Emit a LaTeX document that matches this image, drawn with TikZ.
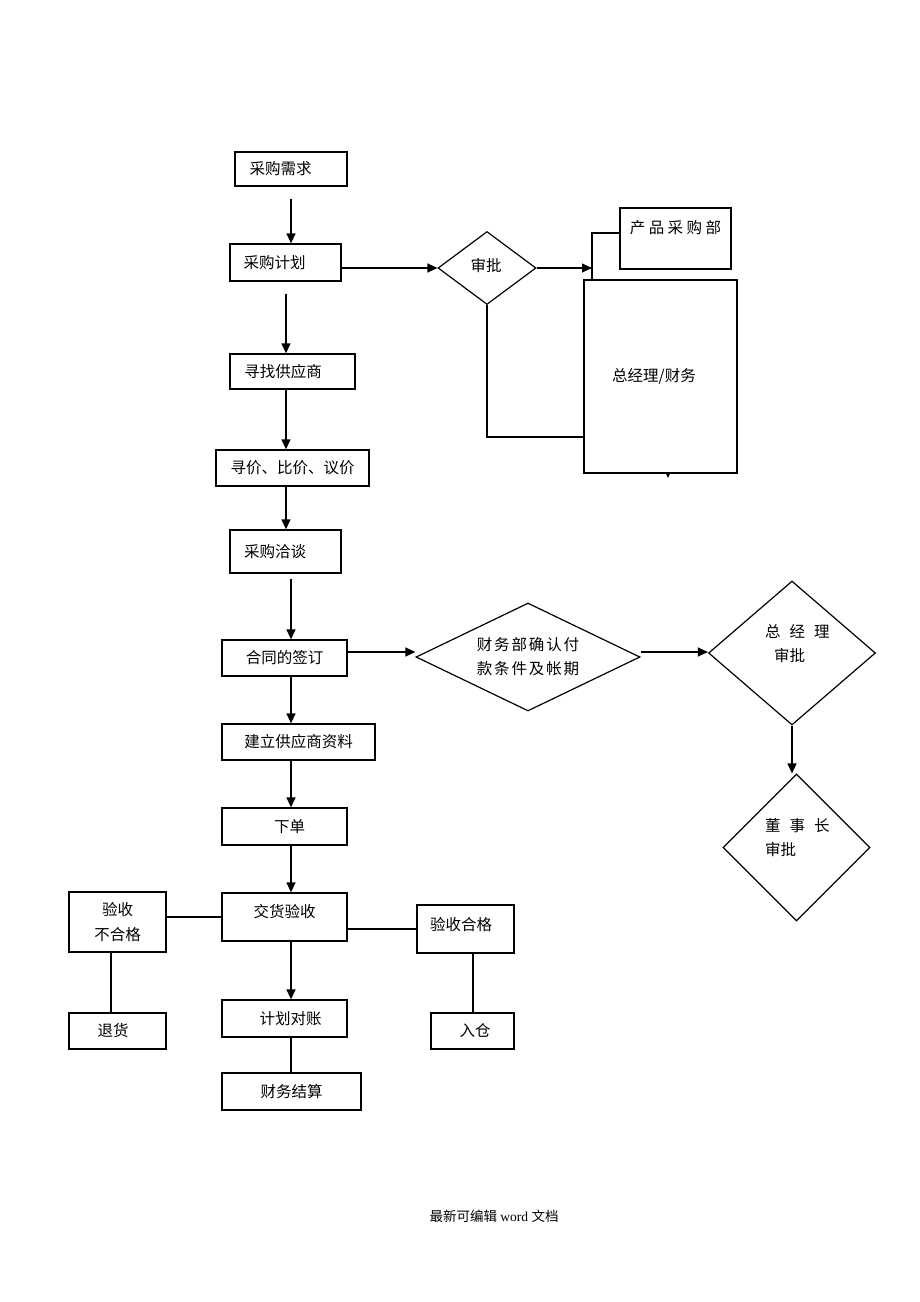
\documentclass[tikz,border=0pt]{standalone}
\usepackage{fontspec}
\setmainfont{Liberation Serif}
\newfontfamily\cjk{Noto Sans CJK SC}
\newfontfamily\cjkw[LetterSpace=12]{Noto Sans CJK SC}
\newfontfamily\cjkww[LetterSpace=22]{Noto Sans CJK SC}
\usetikzlibrary{shapes.geometric,arrows.meta}

\begin{document}
\begin{tikzpicture}[x=1pt,y=-1pt]

    % --- DEFINE STYLES ---
    % Style for process boxes
    \tikzstyle{box} = [rectangle, draw, fill=white, line width=1.3pt, inner sep=0pt, font=\cjk\fontsize{15.5}{25}\selectfont]
    % Style for decision diamonds
    \tikzstyle{dec} = [diamond, draw, line width=1.2pt, inner sep=0pt, font=\cjkw\fontsize{15.5}{24}\selectfont]
    % Style for free text
    \tikzstyle{txt} = [inner sep=0pt, font=\cjk\fontsize{15.5}{24}\selectfont]
    % Connectors
    \tikzstyle{arr} = [line width=1.3pt, -{Triangle[length=10pt,width=9pt]}]
    \tikzstyle{con} = [line width=1.3pt]

    \useasboundingbox (0,0) rectangle (920,1302);

    % --- MAIN COLUMN ---
    \node[box, minimum width=112, minimum height=34] (xq) at (291,169) {\hspace*{-21pt}采购需求};
    \node[box, minimum width=111, minimum height=37] (jh) at (285.5,262.5) {\hspace*{-22pt}采购计划};
    \node[box, minimum width=125, minimum height=35] (xz) at (292.5,371.5) {\hspace*{-19pt}寻找供应商};
    \node[box, minimum width=153, minimum height=36] (xj) at (292.5,468) {寻价、比价、议价};
    \node[box, minimum width=111, minimum height=43] (qt) at (285.5,551.5) {\hspace*{-21pt}采购洽谈};
    \node[box, minimum width=125, minimum height=36] (ht) at (284.5,658) {合同的签订};
    \node[box, minimum width=153, minimum height=36] (zl) at (298.5,742) {建立供应商资料};
    \node[box, minimum width=125, minimum height=37] (xd) at (284.5,826.5) {\hspace*{10pt}下单};
    \node[box, minimum width=125, minimum height=48] (jy) at (284.5,917) {\raisebox{12pt}{交货验收}};
    \node[box, minimum width=125, minimum height=37] (dz) at (284.5,1018.5) {\hspace*{12pt}计划对账};
    \node[box, minimum width=139, minimum height=37] (cs) at (291.5,1091.5) {财务结算};

    % --- SIDE BRANCHES ---
    \node[box, minimum width=97, minimum height=60, align=center] (bhg) at (117.5,922) {验收\\不合格};
    \node[box, minimum width=97, minimum height=36] (th) at (117.5,1031) {\hspace*{-9pt}退货};
    \node[box, minimum width=97, minimum height=48] (hg) at (465.5,929) {\hspace*{-9pt}\raisebox{10pt}{验收合格}};
    \node[box, minimum width=83, minimum height=36] (rc) at (472.5,1031) {\hspace*{5pt}入仓};

    % --- APPROVAL (TOP RIGHT) ---
    \node[dec, shape aspect=1.34, minimum width=98, minimum height=73] (sp) at (487,268) {};
    \node[txt] (spt) at (486,266) {审批};
    \node[box, minimum width=111, minimum height=61, font=\cjkww\fontsize{15.5}{25}\selectfont] (cg) at (675.5,238.5) {\raisebox{24pt}{产品采购部}};
    \coordinate (zjin) at (668,440);
    \coordinate (zjtip) at (668,478);
    \draw[arr] (zjin) -- (zjtip);
    \node[box, minimum width=153, minimum height=193] (zj) at (660.5,376.5) {\hspace*{-13pt}总经理/财务};
    \coordinate (kb) at (592,233);

    \draw[con] ([yshift=5.5]cg.west) -- (kb) -- (kb |- zj.north);
    \draw[arr] (sp.east) -- (sp.east -| kb);
    \draw[con] (sp.south) |- ([yshift=-60.5]zj.west);

    % --- PAYMENT APPROVAL (MIDDLE RIGHT) ---
    \node[dec, shape aspect=2.07, minimum width=224, minimum height=108, align=center] (cw) at (528,657) {财务部确认付\\款条件及帐期};
    \node[dec, shape aspect=1.16, minimum width=167, minimum height=144] (zjl) at (792,653) {};
    \node[txt, align=left, anchor=west] (zjlt) at (765,644) {总\hspace{9pt}经\hspace{9pt}理\\\hspace*{9pt}审批};
    \node[dec, shape aspect=1, minimum width=147, minimum height=147] (dsz) at (796.5,847.5) {};
    \node[txt, align=left, anchor=west] (dszt) at (765,838) {董\hspace{9pt}事\hspace{9pt}长\\审批};

    % --- CONNECTORS ---
    \draw[arr] ([yshift=-12]xq.south) -- (xq.south |- jh.north);
    \draw[arr] (jh.east |- sp.west) -- (sp.west);
    \draw[arr] ([xshift=0.5,yshift=-12]jh.south) -- ([xshift=0.5]jh.south |- xz.north);
    \draw[arr] ([xshift=-6.5]xz.south) -- ([xshift=-6.5]xz.south |- xj.north);
    \draw[arr] ([xshift=-6.5]xj.south) -- ([xshift=-6.5]xj.south |- qt.north);
    \draw[arr] ([xshift=5.5,yshift=-5]qt.south) -- ([xshift=5.5]qt.south |- ht.north);
    \draw[arr] ([yshift=6]ht.east) -- ([yshift=5]cw.west);
    \draw[arr] ([xshift=6.5]ht.south) -- ([xshift=6.5]ht.south |- zl.north);
    \draw[arr] ([xshift=-7.5]zl.south) -- ([xshift=-7.5]zl.south |- xd.north);
    \draw[arr] ([xshift=6.5]xd.south) -- ([xshift=6.5]xd.south |- jy.north);
    \draw[arr] ([xshift=6.5]jy.south) -- ([xshift=6.5]jy.south |- dz.north);
    \draw[con] ([xshift=6.5]dz.south) -- ([xshift=6.5]dz.south |- cs.north);
    \draw[con] (jy.west) -- (jy.west -| bhg.east);
    \draw[con] ([xshift=-6.5]bhg.south) -- ([xshift=-6.5]bhg.south |- th.north);
    \draw[con] (hg.west -| jy.east) -- (hg.west);
    \draw[con] ([xshift=7.5]hg.south) -- ([xshift=7.5]hg.south |- rc.north);
    \draw[arr] ([yshift=5]cw.east) -- ([yshift=1]zjl.west);
    \draw[arr] (zjl.south) -- (zjl.south |- dsz.north);

    % Footer
    \node[inner sep=0pt, font=\fontsize{13.5}{16}\selectfont] (ft) at (494,1216) {{\cjk 最新可编辑} word {\cjk 文档}};
\end{tikzpicture}
\end{document}
